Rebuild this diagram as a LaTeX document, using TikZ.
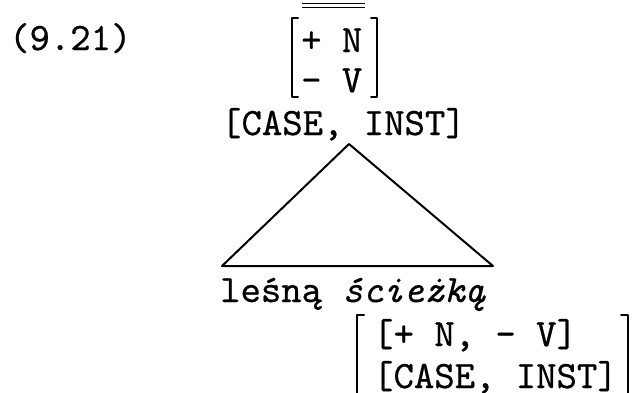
\documentclass[tikz,border=0pt]{standalone}
\usepackage{fontspec}
\newfontfamily\twfont{lmmono10-regular.otf}[FakeBold=0.6,
  ItalicFont=lmmono10-italic.otf, ItalicFeatures={FakeBold=0.6}]
\usetikzlibrary{positioning, calc}

\begin{document}
\begin{tikzpicture}[x=1pt, y=-1pt,
  every node/.style={inner sep=0pt, anchor=base west,
                     font=\twfont\fontsize{38.8}{40}\selectfont},
  brk/.style={line width=2pt, line cap=round, line join=round},
  tri/.style={line width=2pt, line join=round},
]
  \useasboundingbox (0,0) rectangle (639,392);
  \node (num) at (9,50) {(9.21)};

  % category matrix
  \node (plusN) at (301,52) {+ N};
  \node[below=0pt of plusN.base west, anchor=base west, yshift=-40pt] (minusV) {– V};
  \draw[line width=1.2pt] ($(plusN.west)+(1,-37)$) -- ++(63,0)
                          ($(plusN.west)+(1,-33)$) -- ++(63,0);
  \draw[brk] (298,18) -- (292,18) -- (292,97) -- (298,97);
  \draw[brk] (371,18) -- (377,18) -- (377,97) -- (371,97);

  \node (topcase) at (221,135) {[CASE, INST]};

  % triangle
  \node (words) at (220,302) {leśną \textit{ścieżką}};
  \coordinate (apex) at (349,144);
  \coordinate (left) at (222,266);
  \coordinate (right) at (493,266);
  \draw[tri] (left) -- (apex) -- (right) -- cycle;

  % feature matrix of the word
  \node (rowN) at (373,346) {[+ N, – V]};
  \node (rowCase) at (373,388) {[CASE, INST]};
  \draw[brk] (364,315) -- (357,315) -- (357,400);
  \draw[brk] (621,315) -- (628,315) -- (628,400);
\end{tikzpicture}
\end{document}
